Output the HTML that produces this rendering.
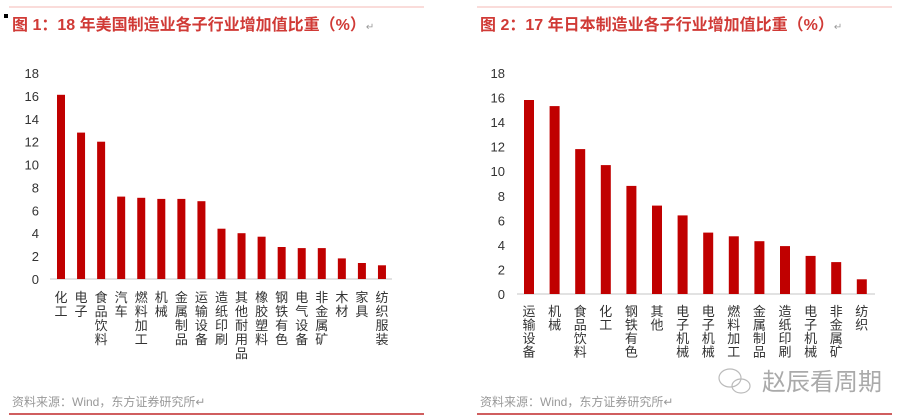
<!DOCTYPE html>
<html><head><meta charset="utf-8"><style>
html,body{margin:0;padding:0;background:#fff;}
svg{display:block;}
text{font-family:"Liberation Sans","Noto Sans CJK SC",sans-serif;}
</style></head><body>
<svg width="900" height="420" viewBox="0 0 900 420" xmlns="http://www.w3.org/2000/svg">
<line x1="9" y1="7" x2="424" y2="7" stroke="#f4b8b4" stroke-width="1"/>
<line x1="477" y1="7" x2="892" y2="7" stroke="#f4b8b4" stroke-width="1"/>
<line x1="9" y1="414" x2="424" y2="414" stroke="#c0282a" stroke-width="1.5"/>
<line x1="477" y1="414" x2="892" y2="414" stroke="#c0282a" stroke-width="1.5"/>
<rect x="4" y="14" width="4" height="4" fill="#000"/>
<text x="12" y="30" font-size="16" font-weight="bold" fill="#d03a36">图 1：18 年美国制造业各子行业增加值比重（%）<tspan fill="#999" font-size="10" font-weight="normal">↵</tspan></text>
<text x="480" y="30" font-size="16" font-weight="bold" fill="#d03a36">图 2：17 年日本制造业各子行业增加值比重（%）<tspan fill="#999" font-size="10" font-weight="normal">↵</tspan></text>
<text x="12" y="406" font-size="12" fill="#999">资料来源：Wind，东方证券研究所↵</text>
<text x="480" y="406" font-size="12" fill="#999">资料来源：Wind，东方证券研究所↵</text>
<text x="762" y="390" font-size="24" fill="#aaa">赵辰看周期</text>
<g fill="none" stroke="#bbb" stroke-width="1.2"><ellipse cx="730" cy="378" rx="11" ry="9"/><ellipse cx="741" cy="386" rx="9" ry="7"/></g>

<g font-size="13" fill="#333" text-anchor="end">
<text x="39" y="284">0</text><text x="39" y="261.1">2</text><text x="39" y="238.2">4</text><text x="39" y="215.4">6</text><text x="39" y="192.5">8</text><text x="39" y="169.6">10</text><text x="39" y="146.7">12</text><text x="39" y="123.8">14</text><text x="39" y="100.9">16</text><text x="39" y="78.1">18</text>
<text x="505" y="299">0</text><text x="505" y="274.4">2</text><text x="505" y="249.9">4</text><text x="505" y="225.3">6</text><text x="505" y="200.8">8</text><text x="505" y="176.2">10</text><text x="505" y="151.6">12</text><text x="505" y="127.1">14</text><text x="505" y="102.5">16</text><text x="505" y="78">18</text>
</g>
<line x1="50" y1="279" x2="392" y2="279" stroke="#d9d9d9" stroke-width="1.5"/>
<line x1="517" y1="294" x2="875" y2="294" stroke="#d9d9d9" stroke-width="1.5"/>

<g fill="#c00000">
<rect x="57" y="94.8" width="8" height="184.2"/>
<rect x="77.06" y="132.6" width="8" height="146.4"/>
<rect x="97.12" y="141.7" width="8" height="137.3"/>
<rect x="117.18" y="196.6" width="8" height="82.4"/>
<rect x="137.24" y="197.8" width="8" height="81.2"/>
<rect x="157.3" y="198.9" width="8" height="80.1"/>
<rect x="177.36" y="198.9" width="8" height="80.1"/>
<rect x="197.42" y="201.2" width="8" height="77.8"/>
<rect x="217.48" y="228.7" width="8" height="50.3"/>
<rect x="237.54" y="233.2" width="8" height="45.8"/>
<rect x="257.6" y="236.7" width="8" height="42.3"/>
<rect x="277.66" y="247" width="8" height="32"/>
<rect x="297.72" y="248.1" width="8" height="30.9"/>
<rect x="317.78" y="248.1" width="8" height="30.9"/>
<rect x="337.84" y="258.4" width="8" height="20.6"/>
<rect x="357.9" y="263" width="8" height="16"/>
<rect x="377.96" y="265.3" width="8" height="13.7"/>

<rect x="524" y="100" width="10" height="194"/>
<rect x="549.6" y="106.1" width="10" height="187.9"/>
<rect x="575.2" y="149.1" width="10" height="144.9"/>
<rect x="600.8" y="165.1" width="10" height="128.9"/>
<rect x="626.4" y="185.9" width="10" height="108.1"/>
<rect x="652" y="205.6" width="10" height="88.4"/>
<rect x="677.6" y="215.4" width="10" height="78.6"/>
<rect x="703.2" y="232.6" width="10" height="61.4"/>
<rect x="728.8" y="236.3" width="10" height="57.7"/>
<rect x="754.4" y="241.2" width="10" height="52.8"/>
<rect x="780" y="246.1" width="10" height="47.9"/>
<rect x="805.6" y="255.9" width="10" height="38.1"/>
<rect x="831.2" y="262.1" width="10" height="31.9"/>
<rect x="856.8" y="279.3" width="10" height="14.7"/>
</g>

<g font-size="13" fill="#333" text-anchor="middle">
<text y="302"><tspan x="61">化</tspan><tspan x="61" dy="14">工</tspan></text>
<text y="302"><tspan x="81.06">电</tspan><tspan x="81.06" dy="14">子</tspan></text>
<text y="302"><tspan x="101.12">食</tspan><tspan x="101.12" dy="14">品</tspan><tspan x="101.12" dy="14">饮</tspan><tspan x="101.12" dy="14">料</tspan></text>
<text y="302"><tspan x="121.18">汽</tspan><tspan x="121.18" dy="14">车</tspan></text>
<text y="302"><tspan x="141.24">燃</tspan><tspan x="141.24" dy="14">料</tspan><tspan x="141.24" dy="14">加</tspan><tspan x="141.24" dy="14">工</tspan></text>
<text y="302"><tspan x="161.3">机</tspan><tspan x="161.3" dy="14">械</tspan></text>
<text y="302"><tspan x="181.36">金</tspan><tspan x="181.36" dy="14">属</tspan><tspan x="181.36" dy="14">制</tspan><tspan x="181.36" dy="14">品</tspan></text>
<text y="302"><tspan x="201.42">运</tspan><tspan x="201.42" dy="14">输</tspan><tspan x="201.42" dy="14">设</tspan><tspan x="201.42" dy="14">备</tspan></text>
<text y="302"><tspan x="221.48">造</tspan><tspan x="221.48" dy="14">纸</tspan><tspan x="221.48" dy="14">印</tspan><tspan x="221.48" dy="14">刷</tspan></text>
<text y="302"><tspan x="241.54">其</tspan><tspan x="241.54" dy="14">他</tspan><tspan x="241.54" dy="14">耐</tspan><tspan x="241.54" dy="14">用</tspan><tspan x="241.54" dy="14">品</tspan></text>
<text y="302"><tspan x="261.6">橡</tspan><tspan x="261.6" dy="14">胶</tspan><tspan x="261.6" dy="14">塑</tspan><tspan x="261.6" dy="14">料</tspan></text>
<text y="302"><tspan x="281.66">钢</tspan><tspan x="281.66" dy="14">铁</tspan><tspan x="281.66" dy="14">有</tspan><tspan x="281.66" dy="14">色</tspan></text>
<text y="302"><tspan x="301.72">电</tspan><tspan x="301.72" dy="14">气</tspan><tspan x="301.72" dy="14">设</tspan><tspan x="301.72" dy="14">备</tspan></text>
<text y="302"><tspan x="321.78">非</tspan><tspan x="321.78" dy="14">金</tspan><tspan x="321.78" dy="14">属</tspan><tspan x="321.78" dy="14">矿</tspan></text>
<text y="302"><tspan x="341.84">木</tspan><tspan x="341.84" dy="14">材</tspan></text>
<text y="302"><tspan x="361.9">家</tspan><tspan x="361.9" dy="14">具</tspan></text>
<text y="302"><tspan x="381.96">纺</tspan><tspan x="381.96" dy="14">织</tspan><tspan x="381.96" dy="14">服</tspan><tspan x="381.96" dy="14">装</tspan></text>

<text y="316"><tspan x="529">运</tspan><tspan x="529" dy="13.5">输</tspan><tspan x="529" dy="13.5">设</tspan><tspan x="529" dy="13.5">备</tspan></text>
<text y="316"><tspan x="554.6">机</tspan><tspan x="554.6" dy="13.5">械</tspan></text>
<text y="316"><tspan x="580.2">食</tspan><tspan x="580.2" dy="13.5">品</tspan><tspan x="580.2" dy="13.5">饮</tspan><tspan x="580.2" dy="13.5">料</tspan></text>
<text y="316"><tspan x="605.8">化</tspan><tspan x="605.8" dy="13.5">工</tspan></text>
<text y="316"><tspan x="631.4">钢</tspan><tspan x="631.4" dy="13.5">铁</tspan><tspan x="631.4" dy="13.5">有</tspan><tspan x="631.4" dy="13.5">色</tspan></text>
<text y="316"><tspan x="657">其</tspan><tspan x="657" dy="13.5">他</tspan></text>
<text y="316"><tspan x="682.6">电</tspan><tspan x="682.6" dy="13.5">子</tspan><tspan x="682.6" dy="13.5">机</tspan><tspan x="682.6" dy="13.5">械</tspan></text>
<text y="316"><tspan x="708.2">电</tspan><tspan x="708.2" dy="13.5">子</tspan><tspan x="708.2" dy="13.5">机</tspan><tspan x="708.2" dy="13.5">械</tspan></text>
<text y="316"><tspan x="733.8">燃</tspan><tspan x="733.8" dy="13.5">料</tspan><tspan x="733.8" dy="13.5">加</tspan><tspan x="733.8" dy="13.5">工</tspan></text>
<text y="316"><tspan x="759.4">金</tspan><tspan x="759.4" dy="13.5">属</tspan><tspan x="759.4" dy="13.5">制</tspan><tspan x="759.4" dy="13.5">品</tspan></text>
<text y="316"><tspan x="785">造</tspan><tspan x="785" dy="13.5">纸</tspan><tspan x="785" dy="13.5">印</tspan><tspan x="785" dy="13.5">刷</tspan></text>
<text y="316"><tspan x="810.6">电</tspan><tspan x="810.6" dy="13.5">子</tspan><tspan x="810.6" dy="13.5">机</tspan><tspan x="810.6" dy="13.5">械</tspan></text>
<text y="316"><tspan x="836.2">非</tspan><tspan x="836.2" dy="13.5">金</tspan><tspan x="836.2" dy="13.5">属</tspan><tspan x="836.2" dy="13.5">矿</tspan></text>
<text y="316"><tspan x="861.8">纺</tspan><tspan x="861.8" dy="13.5">织</tspan></text>
</g>
</svg>
</body></html>
